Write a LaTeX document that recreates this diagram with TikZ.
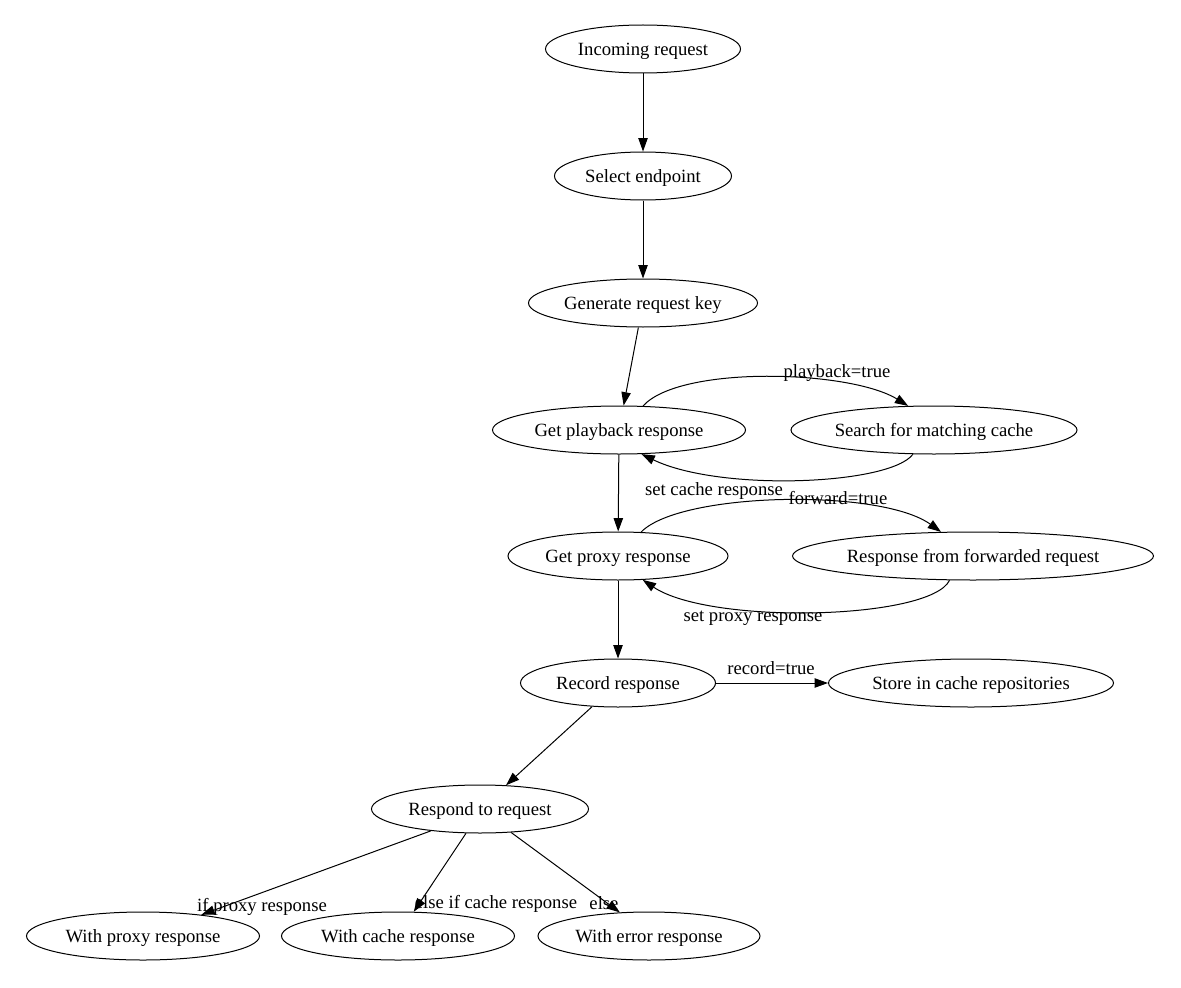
\documentclass[tikz,border=0pt]{standalone}
\usepackage{fontspec}
\setmainfont{Liberation Serif}
\usetikzlibrary{shapes.geometric,arrows.meta}
\begin{document}
\begin{tikzpicture}[x=0.75pt,y=-0.75pt,
  txt/.style={font=\fontsize{14pt}{16pt}\selectfont,text height=10.5pt,text depth=1pt},
  ell/.style={ellipse,draw,line width=0.75pt,minimum width=#1*0.75pt,minimum height=36pt,inner sep=0pt,txt},
  edge/.style={draw,line width=0.75pt,-{Triangle[length=10pt,width=7pt]}},
  lbl/.style={txt,inner sep=0pt}]
\useasboundingbox (0,0) rectangle (1181,988);
\node[ell=195] (inc) at (643,49) {Incoming request};
\node[ell=177] (sel) at (643,176) {Select endpoint};
\node[ell=229] (gen) at (643,303) {Generate request key};
\node[ell=253] (gpb) at (619,430) {Get playback response};
\node[ell=286] (smc) at (934,430) {Search for matching cache};
\node[ell=220] (gp) at (618,556) {Get proxy response};
\node[ell=361] (rf) at (973,556) {Response from forwarded request};
\node[ell=195] (rec) at (618,683) {Record response};
\node[ell=285] (store) at (971,683) {Store in cache repositories};
\node[ell=217] (resp) at (480,809) {Respond to request};
\node[ell=233] (wp) at (143,936) {With proxy response};
\node[ell=233] (wc) at (398,936) {With cache response};
\node[ell=222] (we) at (649,936) {With error response};

\draw[edge] (inc) -- (sel);
\draw[edge] (sel) -- (gen);
\draw[edge] (gen) -- (gpb);
\draw[edge] (gpb.45) .. controls (680,365) and (850,370) .. (smc.137);
\draw[edge] (smc.229) .. controls (890,485) and (720,492) .. (gpb.313);
\draw[edge] (gpb) -- (gp);
\draw[edge] (gp.46) .. controls (680,492) and (880,488) .. (rf.143);
\draw[edge] (rf.226) .. controls (930,620) and (710,625) .. (gp.316);
\draw[edge] (gp) -- (rec);
\draw[edge] (rec) -- (store);
\draw[edge] (rec) -- (resp);
\draw[edge] (resp.204) -- (wp.20);
\draw[edge] (resp.240) -- (wc.57);
\draw[edge] (resp.323) -- (we.141);

\node[lbl] (l1) at (837,371) {playback=true};
\node[lbl] (l2) at (714,489) {set cache response};
\node[lbl] (l3) at (838,498) {forward=true};
\node[lbl] (l4) at (753,615) {set proxy response};
\node[lbl] (l5) at (771,668) {record=true};
\node[lbl] (l6) at (262,905) {if proxy response};
\node[lbl] (l7) at (496,902) {else if cache response};
\node[lbl] (l8) at (604,903) {else};
\end{tikzpicture}
\end{document}
